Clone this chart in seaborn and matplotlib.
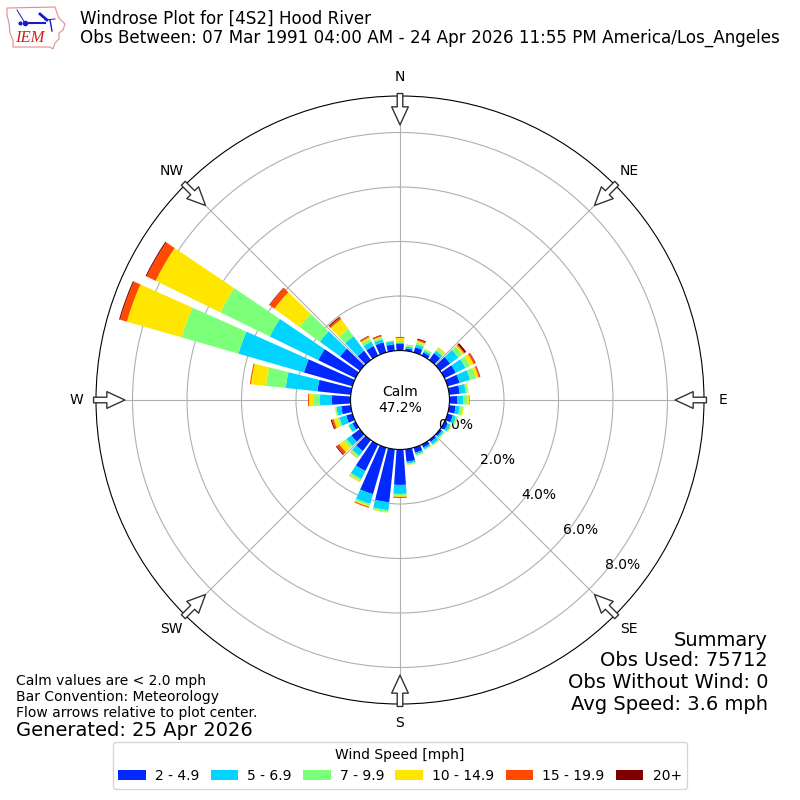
#!/usr/bin/env python3
'''Windrose for Hood River, stacked polar bars by speed class'''

import numpy as np
import matplotlib
matplotlib.use("Agg")
import matplotlib.pyplot as plt
from matplotlib.patches import Polygon, Rectangle
import seaborn as sns

directions = np.arange(0, 360, 10)

# percent of observations per 10 degree sector, one list per speed class
speed_2_5 = [.24, .09, .20, .13, .31, .46, .46, .46, .39, .28, .24, .20, .13, .09, .09, .13, .20, .46,
             1.30, 1.96, 1.78, 1.08, .50, .39, .13, .24, .35, .68, 1.23, 1.85, 1.52, .90, .42, .39, .39, .24]
speed_5_7 = [.04, .07, .11, .07, .11, .37, .40, .40, .22, .22, .15, .11, .11, .07, .11, .07, .07, .07,
             .33, .29, .37, .33, .22, .22, .15, .26, .18, .44, 1.17, 2.50, 1.98, .92, .66, .18, .11, .11]
speed_7_10 = [.07, .04, .07, .06, .07, .18, .18, .22, .07, .15, .11, .07, .04, .04, .04, .02, .04, .04,
              .07, .07, .07, .07, .07, .11, .02, .07, .04, .22, .73, 2.17, 2.02, .92, .33, .11, .07, .02]
speed_10_15 = [.11, .02, .07, .02, .07, .07, .15, .11, .04, .07, .04, .02, .02, .02, .02, .02, .02, .02,
               .04, .02, .04, .04, .04, .22, .01, .15, .02, .18, .55, 2.09, 2.64, 1.14, .44, .07, .04, .02]
speed_15_20 = [.04, .01, .04, 0, .01, .04, .07, .04, 0, .02, 0, 0, 0, 0, 0, 0, 0, 0,
               .04, 0, .04, .01, .01, .11, 0, .07, 0, .04, .04, .26, .37, .22, .07, .04, .04, 0]
speed_20 = [0, 0, .04, 0, 0, .07, .02, .02, 0, 0, 0, 0, 0, 0, 0, 0, 0, 0,
            0, 0, 0, 0, 0, .04, 0, .04, 0, 0, 0, .04, .04, .02, .04, .02, .02, 0]

series = [speed_2_5, speed_5_7, speed_7_10, speed_10_15, speed_15_20, speed_20]
labels = ["2 - 4.9", "5 - 6.9", "7 - 9.9", "10 - 14.9", "15 - 19.9", "20+"]
colors = ["#0028ff", "#00d4ff", "#7cff79", "#ffe600", "#ff4a00", "#800000"]

ring_values = [0, 2, 4, 6, 8]
compass_angles = [0, 45, 90, 135, 180, 225, 270, 315]
compass_names = ["N", "NE", "E", "SE", "S", "SW", "W", "NW"]
summary_lines = ["Summary", "Obs Used: 75712", "Obs Without Wind: 0", "Avg Speed: 3.6 mph"]

sns.set_style({"font.family": ["DejaVu Sans"]})
plt.rcParams["text.color"] = "black"

fig = plt.figure(figsize=(8, 8), dpi=100)
ax = fig.add_axes([0.12, 0.12, 0.76, 0.76], projection="polar")
ax.set_theta_zero_location("N")
ax.set_theta_direction(-1)

theta = np.deg2rad(directions)
bottom = np.zeros(len(directions))
for vals, col in zip(series, colors):
    sns.barplot(x=theta, y=vals, bottom=bottom, native_scale=True, width=0.8, color=col,
                saturation=1, errorbar=None, linewidth=0, ax=ax)
    bottom = bottom + np.array(vals)

ax.set_xlabel("")
ax.set_ylabel("")
ax.set_rorigin(-1.816)
ax.set_ylim(0, 9.34)
ax.set_xlim(0, 2 * np.pi)
ax.grid(True, color="#b0b0b0", linewidth=0.8)
ax.set_rgrids(ring_values, ["%.1f%%" % v for v in ring_values], fontsize=10, color="black")
ax.set_rlabel_position(130)
ax.set_thetagrids(compass_angles, compass_names, fontsize=10, color="black")
ax.tick_params(axis="x", pad=3.5)
ax.set_axisbelow(True)

# flow arrows around the rim, pointing at the centre
for ang in compass_angles:
    ax.annotate("", xy=(np.deg2rad(ang), 8.28), xytext=(np.deg2rad(ang), 9.43), annotation_clip=False,
                arrowprops=dict(width=4, headwidth=12, headlength=13, shrink=0,
                                facecolor="white", edgecolor="#333333", linewidth=1))

ax.text(0.5, 0.5, "Calm\n47.2%", transform=ax.transAxes, ha="center", va="center", fontsize=10)

# overlay in pixel coordinates for the logo
over = fig.add_axes([0, 0, 1, 1], facecolor="none")
over.set_xlim(0, 800)
over.set_ylim(800, 0)
over.axis("off")

outline = [(7, 8), (55, 7), (57, 13), (59, 18), (65, 24), (63, 30), (59, 33), (59, 39), (55, 43),
           (53, 49), (50, 47), (13, 47), (13, 40), (10, 33), (9, 23), (7, 15)]
over.add_patch(Polygon(outline, closed=True, facecolor="white", edgecolor="#e88a8a", linewidth=0.8))
over.plot([25, 45], [23, 23], color="#1a1ad0", linewidth=1.5)
over.plot([17, 25], [10, 23], color="#1a1ad0", linewidth=0.7)
over.plot([40, 47], [14, 20], color="#1a1ad0", linewidth=2)
over.plot([45, 55], [20, 19], color="#1a1ad0", linewidth=0.7)
over.plot([50, 52], [20, 31], color="#1a1ad0", linewidth=1)
over.plot([20], [23], marker="o", markersize=2, color="#1a1ad0")
over.plot([25], [23], marker="o", markersize=3, color="#1a1ad0")
over.text(30, 38, "IEM", color="#d02020", fontsize=12, family="Liberation Serif", style="italic",
          ha="center", va="center")

fig.text(80 / 800, 1 - 28.5 / 800, "Windrose Plot for [4S2] Hood River\n"
         "Obs Between: 07 Mar 1991 04:00 AM - 24 Apr 2026 11:55 PM America/Los_Angeles",
         fontsize=12.02, ha="left", va="center", linespacing=1.1)

for line, ypix in zip(summary_lines, [640, 661, 682, 705]):
    fig.text(768 / 800, 1 - ypix / 800, line, fontsize=14, ha="right", va="center")
fig.text(16 / 800, 1 - 697 / 800, "Calm values are < 2.0 mph\nBar Convention: Meteorology\n"
         "Flow arrows relative to plot center.", fontsize=10, ha="left", va="center", linespacing=1.15)
fig.text(16 / 800, 1 - 730 / 800, "Generated: 25 Apr 2026", fontsize=14, ha="left", va="center")

handles = [Rectangle((0, 0), 1, 1, facecolor=c) for c in colors]
fig.legend(handles, labels, title="Wind Speed [mph]", ncol=6, loc="center", fontsize=10,
           columnspacing=0.8, handletextpad=0.65, bbox_to_anchor=(0.5, 1 - 765.5 / 800))

fig.savefig("out.png", dpi=100)
